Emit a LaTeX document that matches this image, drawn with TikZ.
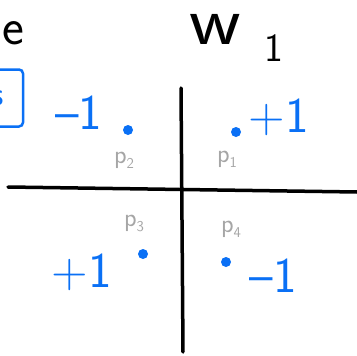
\documentclass[tikz,border=0pt]{standalone}
\usepackage{tikz}
\usetikzlibrary{positioning}
\definecolor{inkblue}{RGB}{10,112,245}
\newcommand{\psub}[1]{p{\fontsize{15}{15}\selectfont\raisebox{-5pt}{#1}}}
\tikzset{
  val/.style={text=inkblue, font=\fontsize{50}{50}\selectfont\sffamily, inner sep=0pt},
  pt/.style={circle, fill=inkblue, inner sep=0pt, minimum size=10pt},
  plbl/.style={text=gray!70, font=\fontsize{26}{26}\selectfont\sffamily, inner sep=0pt},
  hd/.style={font=\fontsize{52}{52}\selectfont\sffamily, inner sep=0pt, anchor=base},
  axis/.style={line width=3.5pt, line cap=round}
}
\begin{document}
\begin{tikzpicture}[x=1pt, y=1pt]
  \useasboundingbox (0,0) rectangle (357,-356);
  \clip (0,0) rectangle (357,-356);
  % headings
  \node[hd] (hde) at (13,-45) {e};
  \node[hd, font=\fontsize{70}{70}\selectfont\sffamily, xscale=1.15] (hdw) at (215,-45) {w};
  \node[hd, font=\fontsize{40}{40}\selectfont\sffamily] (hdone) at (274,-61) {1};
  % box at the left edge
  \node[draw=inkblue, line width=2.5pt, rounded corners=4pt, minimum width=50pt,
        minimum height=57pt, text=inkblue, font=\fontsize{34}{34}\selectfont\sffamily]
        (bx) at (-2,-98) {s};
  % axes
  \coordinate (vtop) at (181,-88);
  \coordinate (vbot) at (183,-352);
  \coordinate (hlft) at (8,-187);
  \coordinate (hrgt) at (357,-192);
  \draw[axis] (vtop) -- (vbot);
  \draw[axis] (hlft) -- (hrgt);
  % points
  \node[pt] (p1) at (236,-132) {};
  \node[pt] (p2) at (128,-130) {};
  \node[pt] (p3) at (143,-254) {};
  \node[pt] (p4) at (226,-262) {};
  \node[plbl] (l1) at (227,-159) {\psub{1}};
  \node[plbl] (l2) at (124,-160) {\psub{2}};
  \node[plbl] (l3) at (134,-223) {\psub{3}};
  \node[plbl] (l4) at (231,-229) {\psub{4}};
  % labels
  \node[val] (v1) at (279,-117) {+1};
  \node[val] (v2) at (79,-113) {--1};
  \node[val] (v3) at (82,-272) {+1};
  \node[val] (v4) at (273,-276) {--1};
\end{tikzpicture}
\end{document}
